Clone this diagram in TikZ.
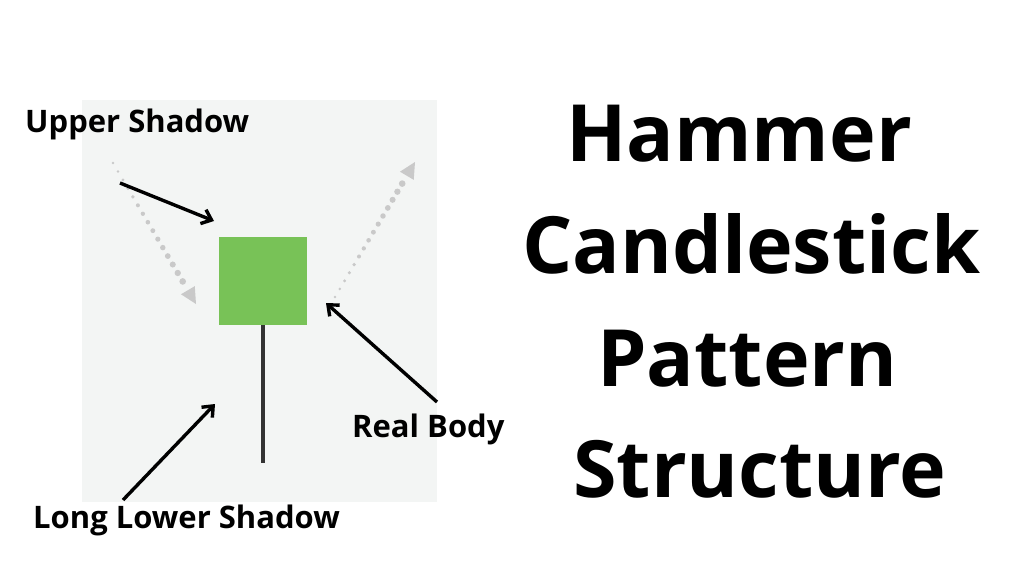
\documentclass[tikz,border=0pt]{standalone}
\usepackage{fontspec}
\setmainfont{Open Sans}
\usetikzlibrary{arrows.meta,calc}
\definecolor{panelbg}{HTML}{F3F5F4}
\definecolor{bodygreen}{HTML}{78C257}
\definecolor{wickgray}{HTML}{333333}
\definecolor{dotgray}{HTML}{C9C9C9}
\begin{document}
\begin{tikzpicture}[x=1pt,y=-1pt,
  lbl/.style={font=\fontsize{31}{34}\selectfont\bfseries, anchor=base west, inner sep=0pt},
  ttl/.style={font=\fontsize{79}{88}\selectfont\bfseries, anchor=base west, inner sep=0pt},
  callout/.style={line width=3.4pt, -{Straight Barb[length=9pt,width=15pt,line width=3.4pt]}, black}]
\useasboundingbox (0,0) rectangle (1024,576);
\fill[white] (0,0) rectangle (1024,576);
% panel
\fill[panelbg] (82,100) rectangle (437,502);
% dotted gray arrows
\coordinate (ls) at (113,163); \coordinate (le) at (196,304);
\coordinate (rs) at (335,297); \coordinate (re) at (415,162);
\foreach \t in {0,0.06,...,0.87} {
  \fill[dotgray] ($(ls)!\t!(le)$) circle ({1.3+2.4*\t});
  \fill[dotgray] ($(rs)!\t!(re)$) circle ({1.3+2.4*\t});
}
\fill[dotgray] (le) -- ($(le)!16pt!(ls)!8pt!90:(ls)$) -- ($(le)!16pt!(ls)!8pt!-90:(ls)$) -- cycle;
\fill[dotgray] (re) -- ($(re)!16pt!(rs)!8pt!90:(rs)$) -- ($(re)!16pt!(rs)!8pt!-90:(rs)$) -- cycle;
% candle
\node[fill=bodygreen, minimum width=88pt, minimum height=88pt, inner sep=0pt, anchor=north west] (body) at (219,237) {};
\coordinate (wickend) at (body.south |- 0,463);
\draw[wickgray, line width=4.5pt] (body.south) -- (wickend);
% labels
\node[lbl] (upper) at (25,132) {Upper Shadow};
\node[lbl] (real) at (352,437) {Real Body};
\node[lbl] (lower) at (33,528) {Long Lower Shadow};
% callouts
\coordinate (u0) at (120,183); \coordinate (u1) at (214,221);
\coordinate (r0) at (437,402); \coordinate (r1) at (326,303);
\coordinate (l0) at (123,500); \coordinate (l1) at (215,404);
\draw[callout] (u0) -- (u1);
\draw[callout] (r0) -- (r1);
\draw[callout] (l0) -- (l1);
% title
\node[ttl] (t1) at (566,161) {Hammer};
\node[ttl] (t2) at (522,273) {Candlestick};
\node[ttl] (t3) at (597,386) {Pattern};
\node[ttl] (t4) at (573,497) {Structure};
\end{tikzpicture}
\end{document}
